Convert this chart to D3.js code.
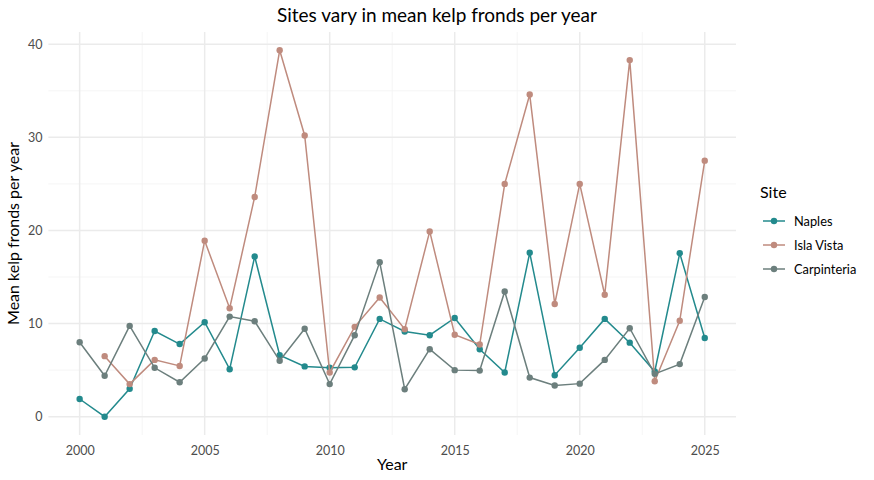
<!DOCTYPE html>
<html><head><meta charset="utf-8">
<script src="https://cdn.jsdelivr.net/npm/d3@7"></script>
<style>body{margin:0;background:#fff;} text{font-family:Lato,"Open Sans",sans-serif;}</style>
</head><body>
<svg id="chart" width="874" height="480"></svg>
<script>
const years = d3.range(2000, 2026);
const sites = ["Naples", "Isla Vista", "Carpinteria"];
const colors = ["#238A8D", "#BF8B7E", "#6C7F7D"];
const naples = [1.9,0.0,3.0,9.2,7.8,10.15,5.1,17.2,6.6,5.4,5.25,5.3,10.5,9.15,8.75,10.6,7.25,4.75,17.6,4.45,7.4,10.5,7.95,4.85,17.55,8.45];
const islaVista = [null,6.5,3.5,6.1,5.45,18.9,11.65,23.6,39.35,30.2,4.75,9.65,12.8,9.4,19.9,8.8,7.75,25.0,34.6,12.1,25.0,13.1,38.3,3.8,10.3,27.5];
const carpinteria = [8.0,4.4,9.75,5.25,3.7,6.25,10.75,10.25,6.0,9.45,3.5,8.75,16.6,2.95,7.25,5.0,4.95,13.45,4.2,3.35,3.55,6.1,9.5,4.6,5.65,12.85];
const xTicks = [2000,2005,2010,2015,2020,2025];
const yTicks = [0,10,20,30,40];
const title = "Sites vary in mean kelp fronds per year";
const xTitle = "Year";
const yTitle = "Mean kelp fronds per year";
const legendTitle = "Site";

const seriesVals = [naples, islaVista, carpinteria];
const svg = d3.select("#chart");
const L = 48.4, R = 736, T = 32, B = 435;
const x = d3.scaleLinear().domain([2000 - 1.25, 2025 + 1.25]).range([L, R]);
const yMax = 39.35, yExp = yMax * 0.05;
const y = d3.scaleLinear().domain([0 - yExp, yMax + yExp]).range([B, T]);

// minor grid
const xMinor = [2002.5, 2007.5, 2012.5, 2017.5, 2022.5];
const yMinor = [5, 15, 25, 35];
svg.append("g").selectAll("line").data(xMinor).join("line")
  .attr("x1", d => x(d)).attr("x2", d => x(d)).attr("y1", T).attr("y2", B)
  .attr("stroke", "#f2f2f2").attr("stroke-width", 0.8);
svg.append("g").selectAll("line").data(yMinor).join("line")
  .attr("y1", d => y(d)).attr("y2", d => y(d)).attr("x1", L).attr("x2", R)
  .attr("stroke", "#f2f2f2").attr("stroke-width", 0.8);
// major grid
svg.append("g").selectAll("line").data(xTicks).join("line")
  .attr("x1", d => x(d)).attr("x2", d => x(d)).attr("y1", T).attr("y2", B)
  .attr("stroke", "#ebebeb").attr("stroke-width", 1.5);
svg.append("g").selectAll("line").data(yTicks).join("line")
  .attr("y1", d => y(d)).attr("y2", d => y(d)).attr("x1", L).attr("x2", R)
  .attr("stroke", "#ebebeb").attr("stroke-width", 1.5);

// axes (labels only)
const xAxis = svg.append("g").attr("transform", `translate(0,${B})`)
  .call(d3.axisBottom(x).tickValues(xTicks).tickFormat(d3.format("d")).tickSize(0).tickPadding(11));
xAxis.select(".domain").remove();
xAxis.selectAll("text").attr("fill", "#4d4d4d").attr("font-size", 12.5);
const yAxis = svg.append("g").attr("transform", `translate(${L},0)`)
  .call(d3.axisLeft(y).tickValues(yTicks).tickSize(0).tickPadding(6));
yAxis.select(".domain").remove();
yAxis.selectAll("text").attr("fill", "#4d4d4d").attr("font-size", 12.5);

// series
const line = d3.line().defined(d => d.v != null).x(d => x(d.year)).y(d => y(d.v));
seriesVals.forEach((vals, i) => {
  const pts = years.map((yr, j) => ({year: yr, v: vals[j]}));
  svg.append("path").datum(pts).attr("d", line).attr("fill", "none")
    .attr("stroke", colors[i]).attr("stroke-width", 1.5);
  svg.append("g").selectAll("circle").data(pts.filter(d => d.v != null)).join("circle")
    .attr("cx", d => x(d.year)).attr("cy", d => y(d.v)).attr("r", 3.2).attr("fill", colors[i]);
});

// titles
svg.append("text").attr("x", 437).attr("y", 22).attr("text-anchor", "middle")
  .attr("font-size", 19).attr("fill", "#000").text(title);
svg.append("text").attr("x", (L + R) / 2).attr("y", 470).attr("text-anchor", "middle")
  .attr("font-size", 16).attr("fill", "#000").text(xTitle);
svg.append("text").attr("transform", `translate(19,${(T + B) / 2}) rotate(-90)`)
  .attr("text-anchor", "middle").attr("font-size", 16).attr("fill", "#000").text(yTitle);

// legend
const lg = svg.append("g");
lg.append("text").attr("x", 760).attr("y", 198).attr("font-size", 16).attr("fill", "#000").text(legendTitle);
sites.forEach((s, i) => {
  const cy = 221 + i * 24;
  lg.append("line").attr("x1", 763).attr("x2", 785).attr("y1", cy).attr("y2", cy)
    .attr("stroke", colors[i]).attr("stroke-width", 1.5);
  lg.append("circle").attr("cx", 774).attr("cy", cy).attr("r", 3.2).attr("fill", colors[i]);
  lg.append("text").attr("x", 794).attr("y", cy + 4.5).attr("font-size", 12.8).attr("fill", "#000").text(s);
});
</script>
</body></html>
